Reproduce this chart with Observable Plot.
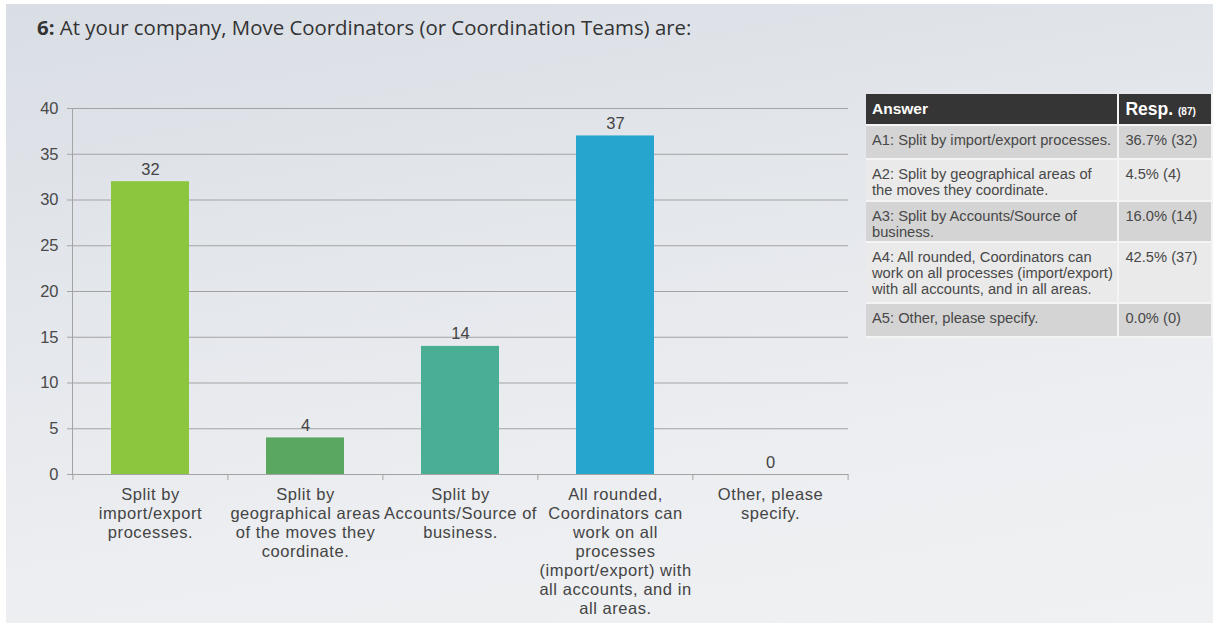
<!DOCTYPE html>
<html>
<head>
<meta charset="utf-8">
<script src="https://cdn.jsdelivr.net/npm/d3@7"></script>
<script src="https://cdn.jsdelivr.net/npm/@observablehq/plot@0.6"></script>
<style>
  html, body { margin: 0; padding: 0; background: #ffffff; }
  #page {
    position: absolute; left: 6px; top: 4px; width: 1207px; height: 619px; overflow: hidden;
    background: linear-gradient(170deg, #d9dee5 0%, #e3e6eb 35%, #eceef1 70%, #eff1f3 100%);
  }
  #title {
    position: absolute; left: 31px; top: 9px; font-family: "Open Sans", sans-serif;
    font-size: 20.4px; color: #333; white-space: nowrap;
  }
  #chart { position: absolute; left: -6px; top: -4px; }
  #chart g[aria-label="x-axis tick label"] text { letter-spacing: 0.55px; }
  #tbl {
    position: absolute; left: 860px; top: 90px; border-collapse: collapse;
    font-family: "Liberation Sans", Arial, sans-serif; font-size: 14.7px; color: #484848;
  }
  #tbl th { background: #353535; color: #fff; text-align: left; font-weight: bold; height: 31px; padding: 0 6px; vertical-align: middle; }
  #tbl td { vertical-align: top; padding: 6px 2px 0 6px; line-height: 16px; box-sizing: border-box; }
  #tbl th, #tbl td { border: 2px solid #f4f4f4; border-top: none; border-left: none; }
  #tbl tr.g td { background: #d4d4d4; }
  #tbl tr.l td { background: #eaeaea; }
</style>
</head>
<body>
<div id="page">
  <div id="title"><b>6:</b> At your company, Move Coordinators (or Coordination Teams) are:</div>
  <div id="chart"></div>
  <table id="tbl"></table>
</div>
<script>
// ---- data ----
const axisLabels = [
  "Split by\nimport/export\nprocesses.",
  "Split by\ngeographical areas\nof the moves they\ncoordinate.",
  "Split by\nAccounts/Source of\nbusiness.",
  "All rounded,\nCoordinators can\nwork on all\nprocesses\n(import/export) with\nall accounts, and in\nall areas.",
  "Other, please\nspecify."
];
const counts = [32, 4, 14, 37, 0];
const answers = [
  "A1: Split by import/export processes.",
  "A2: Split by geographical areas of<br>the moves they coordinate.",
  "A3: Split by Accounts/Source of<br>business.",
  "A4: All rounded, Coordinators can<br>work on all processes (import/export)<br>with all accounts, and in all areas.",
  "A5: Other, please specify."
];
const percents = ["36.7%", "4.5%", "16.0%", "42.5%", "0.0%"];
const totalResponses = 87;
const yTicks = [0, 5, 10, 15, 20, 25, 30, 35, 40];
const barColors = ["#8cc53e", "#5aa75f", "#4aae95", "#26a6cf", "#999999"];

// ---- chart ----
const W = 860, H = 623, mL = 72, mR = 12, mT = 108, mB = 149;
const step = (W - mL - mR) / axisLabels.length;
const rows = axisLabels.map((c, i) => ({cat: c, value: counts[i]}));
const grid = "#a3a3a3";

const chart = Plot.plot({
  width: W, height: H,
  marginLeft: mL, marginRight: mR, marginTop: mT, marginBottom: mB,
  style: {background: "transparent", fontFamily: "'Liberation Sans', Arial, sans-serif", fontSize: "16px", color: "#444"},
  x: {domain: axisLabels, paddingInner: 0.5, paddingOuter: 0.25, label: null},
  y: {domain: [0, 40], label: null},
  color: {domain: axisLabels, range: barColors},
  marks: [
    Plot.gridY(yTicks, {stroke: grid, strokeOpacity: 1}),
    Plot.axisY(yTicks, {tickSize: 5, tickPadding: 9, stroke: grid, fill: "#4a4a4a", fontSize: 16.5, label: null}),
    Plot.frame({anchor: "left", stroke: grid}),
    Plot.ruleY([0], {stroke: grid}),
    Plot.barY(rows, {x: "cat", y: "value", fill: "cat"}),
    Plot.text(rows, {x: "cat", y: "value", text: d => String(d.value), lineAnchor: "bottom", dy: -7, fill: "#444", fontSize: 16.5}),
    Plot.axisX({tickSize: 6, tickFormat: () => "", stroke: grid, dx: -step / 2, label: null}),
    Plot.axisX([axisLabels[axisLabels.length - 1]], {tickSize: 6, tickFormat: () => "", stroke: grid, dx: step / 2, label: null}),
    Plot.axisX({tickSize: 0, tickPadding: 12, lineHeight: 19 / 16.5, fill: "#444", fontSize: 16.5, label: null})
  ]
});
document.getElementById("chart").appendChild(chart);

// ---- table ----
const tbl = document.getElementById("tbl");
const rowHeights = [34, 42, 41, 61, 34];
let html = `<tr><th style="width:253px;box-sizing:border-box;font-size:15.5px">Answer</th><th style="width:100px;box-sizing:border-box;font-size:17.5px">Resp. <span style="font-size:10px">(${totalResponses})</span></th></tr>`;
answers.forEach((a, i) => {
  html += `<tr class="${i % 2 === 0 ? "g" : "l"}" style="height:${rowHeights[i]}px"><td style="white-space:nowrap">${a}</td><td>${percents[i]} (${counts[i]})</td></tr>`;
});
tbl.innerHTML = html;
</script>
</body>
</html>
